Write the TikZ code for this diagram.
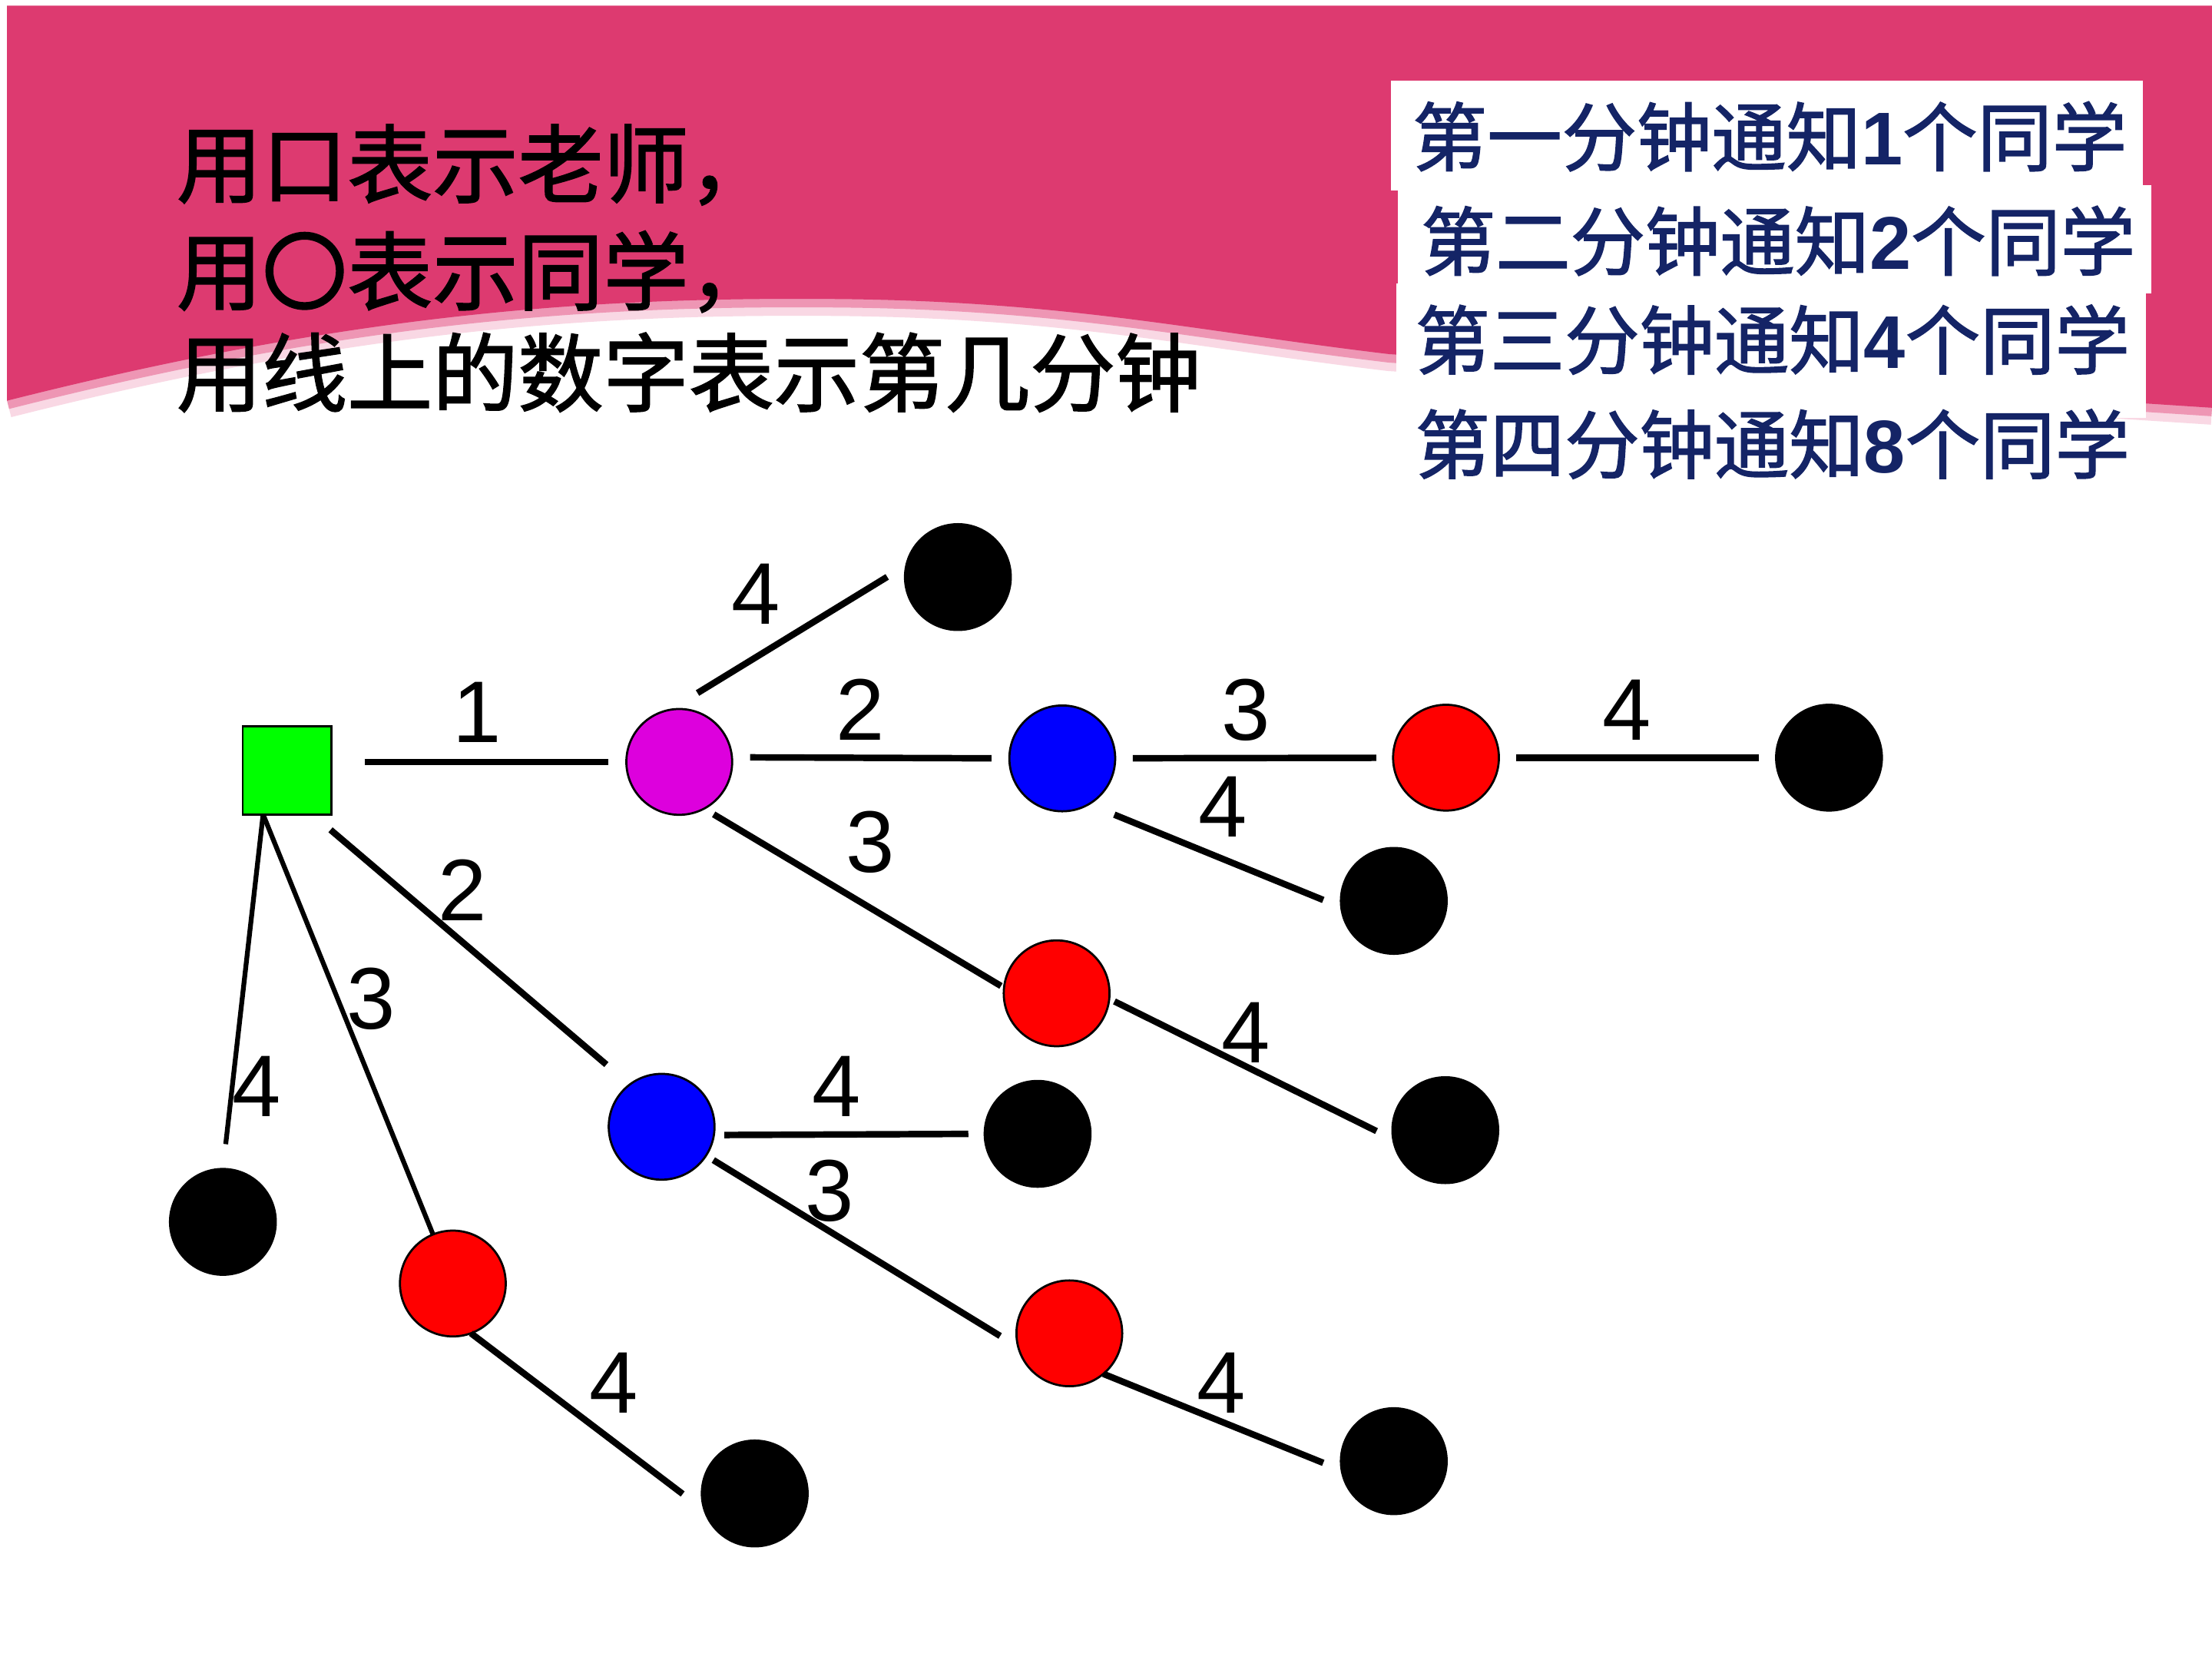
\documentclass[tikz,border=0pt]{standalone}
\usepackage{fontspec}
\newfontfamily\cjk{Noto Sans CJK SC}[FakeBold=1.6]
\newfontfamily\arialf{Liberation Sans}
\definecolor{tgreen}{RGB}{0,255,0}
\definecolor{tmag}{RGB}{221,0,221}
\definecolor{tblue}{RGB}{0,0,255}
\definecolor{tred}{RGB}{255,0,0}
\definecolor{pinkband}{RGB}{221,58,112}
\definecolor{pinkglow}{RGB}{238,150,180}
\definecolor{pinkfade}{RGB}{249,216,228}
\definecolor{navy}{RGB}{20,36,102}
\tikzset{
  stu/.style={circle, minimum size=75pt, inner sep=0pt, outer sep=0pt, draw=black, line width=1.5pt},
  blk/.style={stu, fill=black},
  teacher/.style={rectangle, minimum width=63pt, minimum height=62.5pt, inner sep=0pt, outer sep=0pt, draw=black, line width=1.5pt, fill=tgreen},
  conn/.style={line width=4.6pt, draw=black},
  thinconn/.style={line width=3.4pt, draw=black},
  num/.style={font=\arialf\fontsize{62}{62}\selectfont, inner sep=0pt, outer sep=0pt},
  lefttxt/.style={font=\cjk\fontsize{60.5}{60.5}\selectfont, anchor=base west, inner sep=0pt, text=black},
  righttxt/.style={font=\cjk\fontsize{53}{53}\selectfont, anchor=base west, inner sep=0pt, text=navy},
}
\newcommand{\dg}[1]{{\arialf\bfseries #1}}
\begin{document}
\begin{tikzpicture}[x=1pt,y=-1pt]
\useasboundingbox (0,0) rectangle (1568,1176);
\fill[white] (0,0) rectangle (1568,1176);
% pink header band
\draw[line width=24pt, pinkfade] (1568,289) -- (985,251) .. controls (850,235) and (760,214) .. (600,212) .. controls (420,210) and (250,222) .. (5,284);
\draw[line width=12pt, pinkglow] (1568,289) -- (985,251) .. controls (850,235) and (760,214) .. (600,212) .. controls (420,210) and (250,222) .. (5,284);
\fill[white] (0,0) rectangle (1568,4);
\fill[white] (0,0) rectangle (5,300);
\fill[pinkband] (5,4) -- (1568,4) -- (1568,289) -- (985,251) .. controls (850,235) and (760,214) .. (600,212) .. controls (420,210) and (250,222) .. (5,284) -- cycle;
% white boxes on the right
\fill[white] (986,57) rectangle (1519,135);
\fill[white] (991,131) rectangle (1525,208);
\fill[white] (990,201) rectangle (1521,296);
% left text
\node[lefttxt] (t1) at (125,139) {用口表示老师，};
\node[lefttxt] (t2) at (125,215) {用〇表示同学，};
\node[lefttxt] (t3) at (125,287) {用线上的数字表示第几分钟};
% right text
\node[righttxt] (r1) at (1001,117) {第一分钟通知\dg{1}个同学};
\node[righttxt] (r2) at (1007,191) {第二分钟通知\dg{2}个同学};
\node[righttxt] (r3) at (1003,261) {第三分钟通知\dg{4}个同学};
\node[righttxt] (r4) at (1003,335) {第四分钟通知\dg{8}个同学};
% nodes
\node[teacher] (sq) at (203.5,546) {};
\node[stu, fill=tmag] (mag) at (481.5,540) {};
\node[stu, fill=tblue] (bA) at (753,537.5) {};
\node[stu, fill=tred] (rA) at (1025,537) {};
\node[blk] (kA) at (1296.5,537) {};
\node[blk] (kT) at (679,409) {};
\node[blk] (kB) at (988,638.5) {};
\node[stu, fill=tred] (rB) at (749,704) {};
\node[blk] (kC) at (1024.5,801) {};
\node[stu, fill=tblue] (bB) at (469,798.6) {};
\node[blk] (kD) at (735.5,803.6) {};
\node[stu, fill=tred] (rC) at (758,945) {};
\node[blk] (kE) at (988,1035.6) {};
\node[blk] (kL) at (158,866) {};
\node[stu, fill=tred] (rL) at (321,909.7) {};
\node[blk] (kF) at (535,1058.5) {};
% connectors
\draw[conn, shorten <=23.6pt, shorten >=13pt] (sq.east |- mag) -- (mag);
\draw[conn, shorten <=12.9pt, shorten >=12.7pt] (mag.5) -- (bA.180);
\draw[conn, shorten <=12.5pt, shorten >=12pt] (bA) -- (rA);
\draw[conn, shorten <=12pt, shorten >=12pt] (rA) -- (kA);
\draw[conn, shorten <=22.8pt, shorten >=15.9pt] (mag.100) -- (kT.167);
\draw[conn, shorten <=19.6pt, shorten >=13.8pt] (bA.-60) -- (kB.187);
\draw[conn, shorten <=7.9pt, shorten >=2.5pt] (mag.-62) -- (rB.174);
\draw[conn, shorten <=4.1pt, shorten >=13.2pt] (rB.-6) -- (kC.190);
\draw[conn, shorten <=16.8pt, shorten >=21.8pt] ([xshift=18pt]sq.south) -- (bB.127);
\draw[conn, shorten <=7.4pt, shorten >=11.6pt] (bB.-9) -- (kD.180);
\draw[conn, shorten <=6.1pt, shorten >=15pt] (bB.-33) -- (rC.195);
\draw[conn, shorten >=14.1pt] (rC.-50) -- (kE.190);
\draw[thinconn, shorten >=17.7pt] ([xshift=-17pt]sq.south) -- (kL.90);
\draw[thinconn] ([xshift=-17pt]sq.south) -- (rL);
\draw[conn, shorten >=19.6pt] (rL.-70) -- (kF.199);
% minute labels
\node[num] (n1) at (338,505) {1};
\node[num] (n2) at (610,503) {2};
\node[num] (n3) at (883,503) {3};
\node[num] (n4) at (1153,503) {4};
\node[num] (n5) at (536,421) {4};
\node[num] (n6) at (867,572) {4};
\node[num] (n7) at (617,597) {3};
\node[num] (n8) at (883,732) {4};
\node[num] (n9) at (328,631) {2};
\node[num] (n10) at (263,708) {3};
\node[num] (n11) at (182,770) {4};
\node[num] (n12) at (593,770) {4};
\node[num] (n13) at (588,844) {3};
\node[num] (n14) at (435,980) {4};
\node[num] (n15) at (866,980) {4};
\end{tikzpicture}
\end{document}
